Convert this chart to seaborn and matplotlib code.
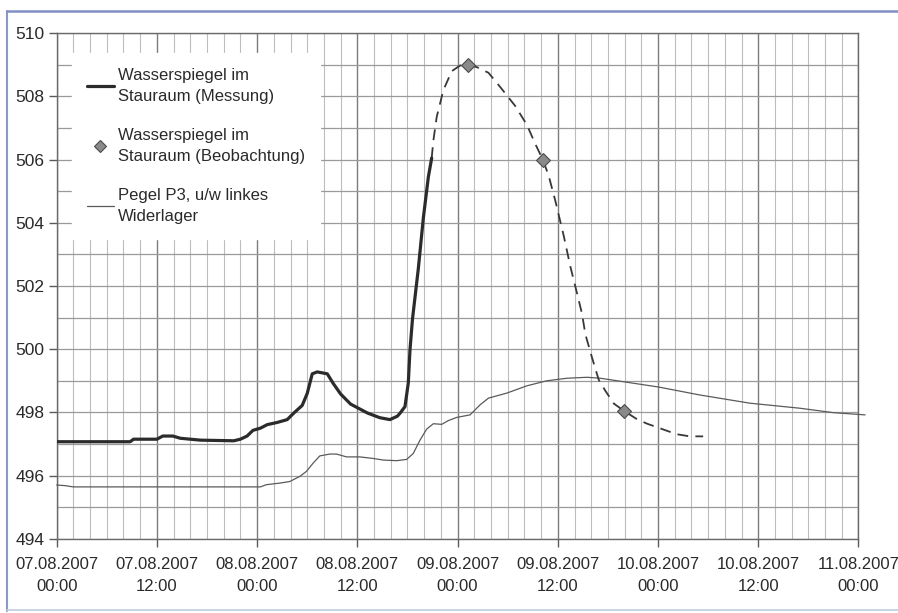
import matplotlib
matplotlib.use("Agg")
import pandas as pd
import seaborn as sns
import matplotlib.pyplot as plt
from matplotlib.ticker import MultipleLocator
from matplotlib.lines import Line2D
import matplotlib.dates as mdates

# Stunden ab 07.08.2007 00:00, Werte in m ue. NN
mess_h = [0, 8.8, 9.2, 12.0, 12.7, 13.9, 14.8, 17.2, 21.2, 22.0, 22.8, 23.5, 24.4,
          25.2, 26.4, 27.6, 28.4, 29.4, 30.0, 30.6, 31.2, 32.4, 33.1, 34.0, 35.2,
          37.2, 38.7, 39.9, 40.8, 41.1, 41.7, 42.1, 42.3, 42.6, 43.3, 43.9, 44.5, 44.9]
mess_v = [497.07, 497.07, 497.15, 497.15, 497.25, 497.25, 497.18, 497.12, 497.1,
          497.15, 497.25, 497.43, 497.5, 497.61, 497.68, 497.77, 497.98, 498.22,
          498.6, 499.22, 499.28, 499.22, 498.92, 498.58, 498.26, 497.98, 497.83,
          497.77, 497.88, 497.97, 498.18, 498.93, 499.97, 500.95, 502.55, 504.15,
          505.45, 506.05]

beob_h = [44.9, 45.1, 45.5, 46.3, 47.3, 48.3, 49.2, 50.3, 51.7, 53.1, 54.9, 56.3,
          57.3, 58.2, 58.9, 59.7, 60.7, 61.5, 62.3, 62.9, 63.3, 64.1, 64.9, 65.7,
          66.7, 67.9, 69.5, 70.7, 72.6, 74.2, 75.8, 77.4]
beob_v = [506.05, 506.6, 507.35, 508.2, 508.8, 508.98, 509.0, 508.93, 508.75, 508.3,
          507.7, 507.1, 506.5, 506.0, 505.5, 504.7, 503.6, 502.62, 501.77, 501.12,
          500.47, 499.73, 499.03, 498.68, 498.28, 498.05, 497.78, 497.64, 497.46,
          497.31, 497.24, 497.24]

obs_h = [49.2, 58.2, 67.9]
obs_v = [509.0, 506.0, 498.05]

p3_h = [0, 1.0, 2.0, 24.4, 25.1, 26.7, 27.9, 29.1, 29.9, 30.7, 31.5, 32.7, 33.5,
        34.7, 36.3, 37.9, 39.1, 40.7, 41.9, 42.7, 43.5, 44.3, 45.1, 46.1, 46.9,
        47.9, 49.5, 50.7, 51.7, 53.9, 56.3, 58.7, 61.1, 63.5, 65.1, 69.1, 72.1,
        77.0, 83.0, 89.0, 93.0, 96.8]
p3_v = [495.7, 495.68, 495.64, 495.64, 495.71, 495.76, 495.81, 495.97, 496.13,
        496.39, 496.62, 496.68, 496.68, 496.59, 496.59, 496.54, 496.49, 496.47,
        496.51, 496.7, 497.12, 497.47, 497.64, 497.62, 497.74, 497.84, 497.92,
        498.24, 498.45, 498.61, 498.84, 499.0, 499.08, 499.11, 499.08, 498.92,
        498.8, 498.55, 498.29, 498.13, 497.99, 497.92]

tick_h = [0, 12, 24, 36, 48, 60, 72, 84, 96]
tick_labels = ["07.08.2007\n00:00", "07.08.2007\n12:00", "08.08.2007\n00:00",
               "08.08.2007\n12:00", "09.08.2007\n00:00", "09.08.2007\n12:00",
               "10.08.2007\n00:00", "10.08.2007\n12:00", "11.08.2007\n00:00"]

legend_labels = ["Wasserspiegel im\nStauraum (Messung)",
                 "Wasserspiegel im\nStauraum (Beobachtung)",
                 "Pegel P3, u/w linkes\nWiderlager"]

start = pd.Timestamp("2007-08-07 00:00")


def zeit(hours):
    return start + pd.to_timedelta(hours, unit="h")


df_mess = pd.DataFrame({"Zeit": zeit(mess_h), "Wert": mess_v})
df_beob = pd.DataFrame({"Zeit": zeit(beob_h), "Wert": beob_v})
df_obs = pd.DataFrame({"Zeit": zeit(obs_h), "Wert": obs_v})
df_p3 = pd.DataFrame({"Zeit": zeit(p3_h), "Wert": p3_v})

sns.set_theme(style="white")
plt.rcParams["font.family"] = ["Liberation Sans", "DejaVu Sans"]

fig = plt.figure(figsize=(8.98, 6.13), dpi=100)
ax = fig.add_axes([0.0631, 0.1212, 0.8929, 0.8245])

sns.lineplot(data=df_p3, x="Zeit", y="Wert", ax=ax, color="#5a5a5a", lw=0.9,
             estimator=None, sort=False, legend=False, clip_on=False, zorder=3)
sns.lineplot(data=df_beob, x="Zeit", y="Wert", ax=ax, color="#383838", lw=1.3,
             linestyle=(0, (6, 4)), estimator=None, sort=False, legend=False, zorder=3)
sns.lineplot(data=df_mess, x="Zeit", y="Wert", ax=ax, color="#2b2b2b", lw=2.3,
             estimator=None, sort=False, legend=False, zorder=4)
sns.scatterplot(data=df_obs, x="Zeit", y="Wert", ax=ax, marker="D", s=50,
                color="#8a8a8a", edgecolor="#4a4a4a", linewidth=0.8, legend=False, zorder=5)

ax.set_xlim(zeit(0), zeit(96))
ax.set_ylim(494, 510)
ax.set_xticks(zeit(tick_h))
ax.set_xticklabels(tick_labels, linespacing=1.6)
ax.xaxis.set_minor_locator(mdates.HourLocator(byhour=range(0, 24, 2)))
ax.yaxis.set_major_locator(MultipleLocator(2))
ax.yaxis.set_minor_locator(MultipleLocator(1))
ax.set_xlabel("")
ax.set_ylabel("")

ax.grid(which="major", axis="x", color="#7c7c7c", lw=1.0)
ax.grid(which="minor", axis="x", color="#bdbdbd", lw=0.8)
ax.grid(which="both", axis="y", color="#9a9a9a", lw=0.9)
ax.set_axisbelow(True)

ax.tick_params(which="major", direction="out", length=6, width=1, color="#5a5a5a",
               labelcolor="#2a2a2a", bottom=True, left=True)
ax.tick_params(axis="x", which="major", pad=7, labelsize=12)
ax.tick_params(axis="y", which="major", pad=3, labelsize=12.5)
ax.tick_params(which="minor", length=0)
for s in ax.spines.values():
    s.set_color("#6a6a6a")
    s.set_linewidth(1.0)

handles = [Line2D([], [], color="#2b2b2b", lw=2.3),
           Line2D([], [], ls="none", marker="D", ms=6.5, mfc="#8a8a8a", mec="#4a4a4a", mew=0.8),
           Line2D([], [], color="#5a5a5a", lw=0.9)]
leg = ax.legend(handles, legend_labels, loc="upper left", bbox_to_anchor=(0.019, 0.961),
                borderaxespad=0, frameon=True, fancybox=False, framealpha=1,
                edgecolor="white", facecolor="white", fontsize=12, handlelength=1.6,
                handletextpad=0.25, labelspacing=1.45, borderpad=0.9)
for t in leg.get_texts():
    t.set_color("#2a2a2a")
    t.set_linespacing(1.5)
leg.set_zorder(6)

# Rahmen des Scans
fig.add_artist(Line2D([7 / 898, 7 / 898], [1 - 611 / 613, 1 - 11 / 613],
                      transform=fig.transFigure, color="#8b98c8", lw=1.5))
fig.add_artist(Line2D([7 / 898, 1.0], [1 - 11 / 613, 1 - 11 / 613],
                      transform=fig.transFigure, color="#8090c4", lw=1.8))
fig.add_artist(Line2D([7 / 898, 1.0], [1 - 610 / 613, 1 - 610 / 613],
                      transform=fig.transFigure, color="#c0cce4", lw=1.2))

fig.savefig("out.png", dpi=100)
